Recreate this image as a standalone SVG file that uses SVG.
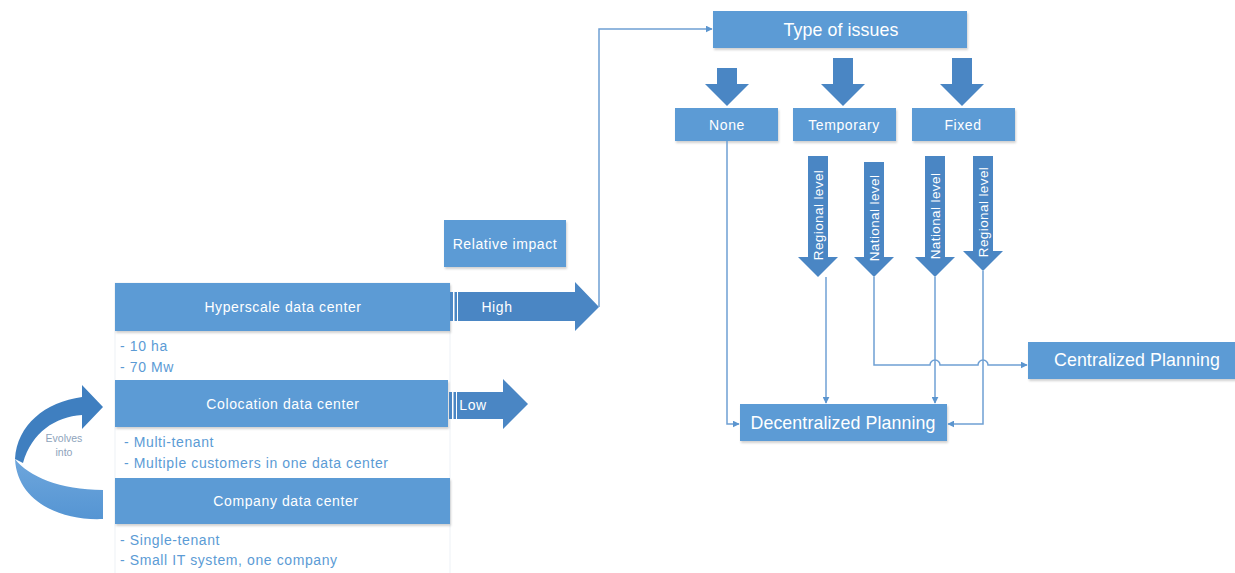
<svg xmlns="http://www.w3.org/2000/svg" width="1235" height="573" viewBox="0 0 1235 573">
<defs>
<style>
.box{fill:#5b9bd5;filter:url(#sh)}
.blk{fill:#4a86c4}
.wt{fill:#fff;font-family:"Liberation Sans",Arial,sans-serif;font-size:14px;letter-spacing:0.6px;text-anchor:middle;dominant-baseline:central}
.big{font-size:17.8px;letter-spacing:0.1px}
.rot{font-size:13.5px;letter-spacing:0.4px}
.lst{fill:#5b9bd5;font-family:"Liberation Sans",Arial,sans-serif;font-size:14px;letter-spacing:0.6px;dominant-baseline:central}
.ev{fill:#8ea3bb;font-family:"Liberation Sans",Arial,sans-serif;font-size:10.5px;text-anchor:middle;dominant-baseline:central}
.ln{fill:none;stroke:#6fa0d4;stroke-width:1.5;marker-end:url(#ah)}
</style>
<marker id="ah" viewBox="0 0 10 10" refX="9" refY="5" markerWidth="7" markerHeight="7" markerUnits="userSpaceOnUse" orient="auto"><path d="M0 0 L10 5 L0 10 Z" fill="#5b95cf"/></marker>
<filter id="sh" x="-5%" y="-10%" width="110%" height="130%"><feDropShadow dx="1" dy="2" stdDeviation="1.2" flood-color="#000" flood-opacity="0.18"/></filter>
<linearGradient id="lg" x1="0" y1="0" x2="0" y2="1"><stop offset="0" stop-color="#6ea6dc"/><stop offset="1" stop-color="#5595d3"/></linearGradient>
</defs>
<rect width="1235" height="573" fill="#fff"/>

<g id="panel">
<rect x="115" y="283" width="335" height="295" fill="#fff" stroke="#edf1f6" stroke-width="1"/>
</g>

<g id="hyperscale">
<rect class="box" x="115" y="283" width="335" height="48"/>
<text class="wt" x="283" y="307">Hyperscale data center</text>
<text class="lst" x="120" y="346">- 10 ha</text>
<text class="lst" x="120" y="367">- 70 Mw</text>
</g>
<g id="colocation">
<rect class="box" x="115" y="380" width="333" height="47"/>
<text class="wt" x="283" y="404">Colocation data center</text>
<text class="lst" x="124" y="442">- Multi-tenant</text>
<text class="lst" x="124" y="463">- Multiple customers in one data center</text>
</g>
<g id="company">
<rect class="box" x="115" y="478" width="335" height="46"/>
<text class="wt" x="286" y="501">Company data center</text>
<text class="lst" x="120" y="540">- Single-tenant</text>
<text class="lst" x="120" y="560">- Small IT system, one company</text>
</g>

<g id="evolves">
<path d="M103 490 L103 519 C58 521 17 500 15 459 C28 476 60 490 103 490 Z" fill="url(#lg)"/>
<path d="M15 459 C17 425 45 402 82 397 L82 385 L103 407 L82 429 L82 415 C55 417 32 432 23 463 Z" fill="#3f7fc0"/>
<text class="ev" x="64" y="438">Evolves</text>
<text class="ev" x="64" y="452">into</text>
</g>

<g id="relative-impact">
<rect class="box" x="444" y="220" width="122" height="47"/>
<text class="wt" x="505" y="244">Relative impact</text>
</g>

<g id="high">
<rect class="blk" x="450" y="292" width="3" height="29"/>
<rect class="blk" x="454.5" y="292" width="2.5" height="29"/>
<path class="blk" d="M458 292 L575 292 L575 282 L599 307 L575 331 L575 321 L458 321 Z"/>
<text class="wt" x="497" y="307">High</text>
</g>
<g id="low">
<rect class="blk" x="449" y="392" width="3" height="27"/>
<rect class="blk" x="453.5" y="392" width="2.5" height="27"/>
<path class="blk" d="M457 392 L503 392 L503 379 L528 404 L503 429 L503 419 L457 419 Z"/>
<text class="wt" x="473" y="405">Low</text>
</g>

<g id="type-of-issues">
<rect class="box" x="713" y="11" width="254" height="37"/>
<text class="wt big" x="841" y="30">Type of issues</text>
</g>
<g id="none">
<path class="blk" d="M717 68 L737 68 L737 84 L749 84 L727 106 L705 84 L717 84 Z"/>
<rect class="box" x="675" y="108" width="103" height="33"/>
<text class="wt" x="727" y="125">None</text>
</g>
<g id="temporary">
<path class="blk" d="M833 58 L853 58 L853 84 L865 84 L843 106 L821 84 L833 84 Z"/>
<rect class="box" x="793" y="108" width="103" height="33"/>
<text class="wt" x="844" y="125">Temporary</text>
</g>
<g id="fixed">
<path class="blk" d="M952 58 L972 58 L972 84 L984 84 L962 106 L940 84 L952 84 Z"/>
<rect class="box" x="912" y="108" width="103" height="33"/>
<text class="wt" x="963" y="125">Fixed</text>
</g>

<g id="regional-1">
<path class="blk" d="M808 156 L828 156 L828 257 L838 257 L818 277 L798 257 L808 257 Z"/>
<text class="wt rot" transform="translate(818 215) rotate(-90)">Regional level</text>
</g>
<g id="national-1">
<path class="blk" d="M864 162 L884 162 L884 257 L894 257 L874 277 L854 257 L864 257 Z"/>
<text class="wt rot" transform="translate(874 218) rotate(-90)">National level</text>
</g>
<g id="national-2">
<path class="blk" d="M925 156 L945 156 L945 257 L955 257 L935 277 L915 257 L925 257 Z"/>
<text class="wt rot" transform="translate(935 216) rotate(-90)">National level</text>
</g>
<g id="regional-2">
<path class="blk" d="M973 156 L993 156 L993 251 L1003 251 L983 271 L963 251 L973 251 Z"/>
<text class="wt rot" transform="translate(983 212) rotate(-90)">Regional level</text>
</g>

<g id="decentralized">
<rect class="box" x="740" y="404" width="207" height="37"/>
<text class="wt big" x="843" y="423">Decentralized Planning</text>
</g>
<g id="centralized">
<rect class="box" x="1028" y="342" width="210" height="37"/>
<text class="wt big" x="1137" y="360">Centralized Planning</text>
</g>

<g id="connectors">
<path class="ln" d="M599 307 L599 29 L712 29"/>
<path class="ln" d="M727 141 L727 424 L739 424"/>
<path class="ln" d="M826 277 L826 403"/>
<path class="ln" d="M935 277 L935 403"/>
<path class="ln" d="M983 271 L983 424 L948 424"/>
<path class="ln" d="M874 277 L874 365 L930 365 A5 5 0 0 1 940 365 L978 365 A5 5 0 0 1 988 365 L1027 365"/>
</g>
</svg>
